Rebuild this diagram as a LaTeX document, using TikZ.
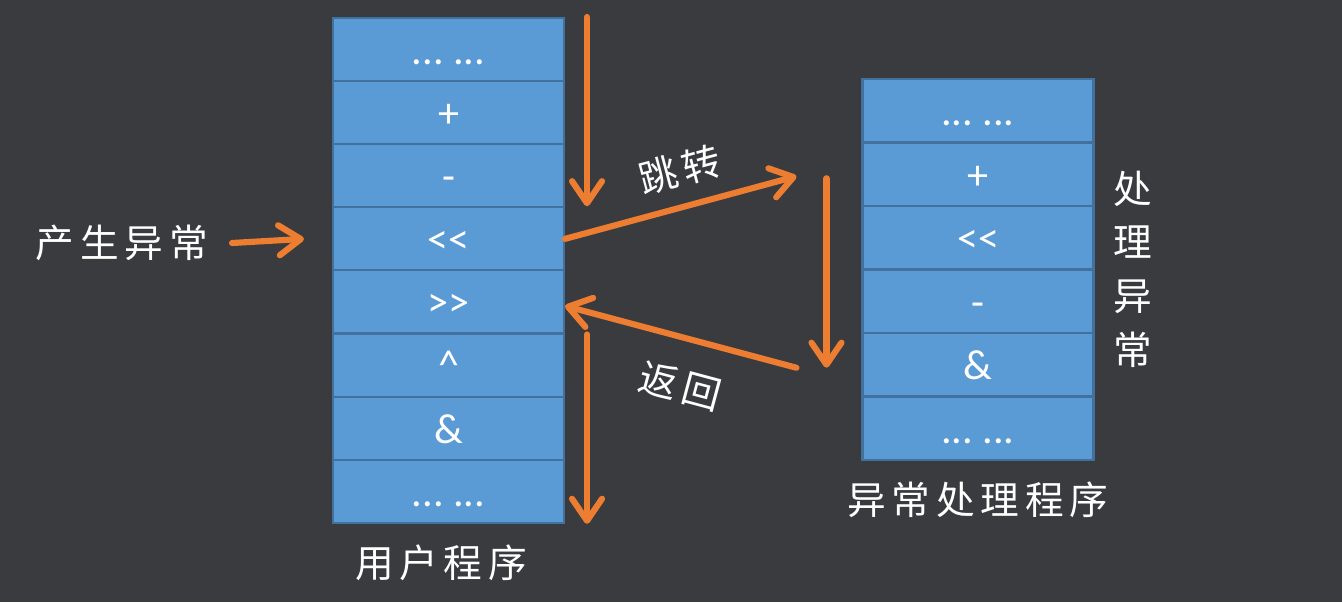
\documentclass[tikz,border=0pt]{standalone}
\usepackage{fontspec}
\setmainfont{Carlito}
\newfontfamily\cjk[LetterSpace=15]{Noto Sans CJK SC}
\usetikzlibrary{arrows.meta}
\usetikzlibrary{positioning}
\definecolor{bgcol}{HTML}{3A3B3F}
\definecolor{cellfill}{HTML}{5B9BD5}
\definecolor{celledge}{HTML}{41719C}
\definecolor{arrcol}{HTML}{ED7D31}
\newcommand{\celldots}{...\ ...}

\tikzset{
  cell/.style={draw=celledge, line width=1.2pt, fill=cellfill, text=white,
    minimum width=4.62cm, minimum height=1.262cm, inner sep=0pt,
    text height=17pt, text depth=0pt,
    font=\fontsize{24}{28}\selectfont},
  flow/.style={draw=arrcol, line width=3.5pt, line cap=round,
    -{Straight Barb[length=0.44cm,width=0.6cm,round]}},
  cjklabel/.style={text=white, font=\cjk\fontsize{22}{30.6}\selectfont}
}

\begin{document}
\begin{tikzpicture}[x=0.02cm,y=-0.02cm]
\fill [bgcol] (0,0) rectangle (1342,602);

% user program column
\foreach \lbl [count=\i] in {\celldots,+,-,<{}<,>{}>,\textasciicircum,\&,\celldots}
  \node [cell] (user\i) at (448.5,{18+63.1*(\i-0.5)}) {\lbl};
% handler column
\foreach \lbl [count=\i] in {\celldots,+,<{}<,-,\&,\celldots}
  \node [cell] (hand\i) at (978,{79+63.5*(\i-0.5)}) {\lbl};

% labels
\node [cjklabel] (cause) at (122,243) {产生异常};
\node [cjklabel] (userlbl) at (441,563) {用户程序};
\node [cjklabel] (handlbl) at (978,500) {异常处理程序};
\node [cjklabel, align=center] (sidelbl) at (1133,269) {处\\理\\异\\常};
\node [cjklabel, rotate=15] (jumplbl) at (680,170) {跳转};
\node [cjklabel, rotate=-15] (backlbl) at (680,386) {返回};

% flow arrows
\coordinate (causeend) at ([xshift=-0.56cm]user4.west);
\draw [flow] (232,243) -- (causeend);
\draw [flow] ([xshift=0.44cm]user1.north east) -- ([xshift=0.44cm]user4.north east);
\draw [flow] ([xshift=0.44cm,yshift=-0.04cm]user6.north east) -- ([xshift=0.44cm]user8.south east);
\draw [flow] (user4.east) -- ([xshift=-1.3cm,yshift=-0.04cm]hand2.west);
\draw [flow] ([xshift=-0.7cm,yshift=-0.08cm]hand2.west) -- ([xshift=-0.7cm,yshift=-0.06cm]hand5.west);
\draw [flow] ([xshift=-1.3cm,yshift=-0.06cm]hand5.west) -- ([yshift=-0.08cm]user5.east);
\end{tikzpicture}
\end{document}
